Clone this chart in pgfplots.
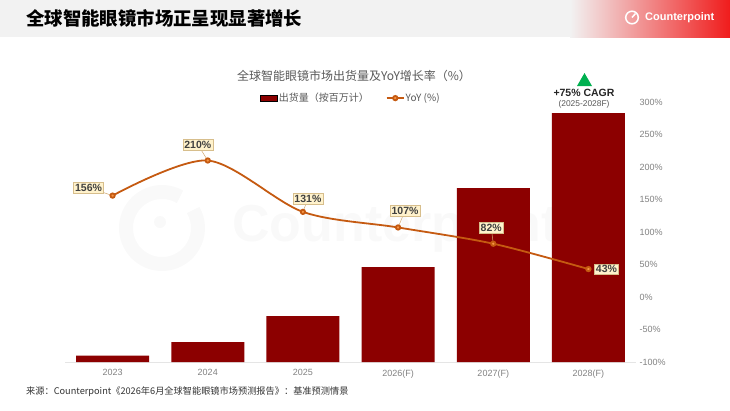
\documentclass[border=0pt]{standalone}
\usepackage{fontspec}
\setmainfont{Liberation Sans}
\newfontfamily\cjk{Noto Sans CJK SC}
\usepackage{pgfplots}
\pgfplotsset{compat=1.18}
\definecolor{barred}{RGB}{140,0,0}
\definecolor{lineor}{RGB}{197,90,17}
\definecolor{markor}{RGB}{247,150,70}
\definecolor{lblfill}{RGB}{255,242,204}
\definecolor{lbldraw}{RGB}{215,190,140}
\definecolor{hdrgray}{RGB}{242,242,242}
\definecolor{hdrred}{RGB}{240,28,28}
\definecolor{cagrgreen}{RGB}{0,176,80}
\definecolor{titlegray}{RGB}{89,89,89}
\definecolor{tickgray}{RGB}{130,130,130}
\begin{document}
\begin{tikzpicture}[x=1pt,y=1pt,
  lbl/.style={fill=lblfill, draw=lbldraw, line width=0.4pt, inner sep=1.6pt,
    font=\bfseries\fontsize{10.5}{11}\selectfont, text=black!75},
  leader/.style={draw=lbldraw!80!lineor, line width=0.5pt}]
\fill[white] (0,0) rectangle (730,-410);
% header
\fill[hdrgray] (0,0) rectangle (730,-37);
\shade[left color=hdrgray, right color=hdrred] (570,0) rectangle (730,-37);
\node[anchor=west, inner sep=0pt, font=\cjk\bfseries\fontsize{18.4}{20}\selectfont] at (26,-18.5) {全球智能眼镜市场正呈现显著增长};
\draw[white, line width=1.5pt] (632,-17.5) circle (6.3);
\draw[white, line width=1.5pt] (632,-17.5) -- (635.5,-13.5);
\node[anchor=west, inner sep=0pt, text=white, font=\bfseries\fontsize{11}{12}\selectfont] at (645,-17.5) {Counterpoint};
% watermark
\begin{scope}[opacity=0.022]
\draw[black, line width=14pt] (162,-228) ++(60:36) arc[start angle=60, end angle=390, radius=36];
\fill[black] (160,-222) circle (6);
\node[anchor=west, inner sep=0pt, text=black, font=\bfseries\fontsize{52}{56}\selectfont] at (232,-228) {Counterpoint};
\end{scope}
% chart title
\node[font=\cjk\fontsize{12}{14}\selectfont, text=titlegray] at (354,-76) {全球智能眼镜市场出货量及YoY增长率（\%）};
% bars
\begin{axis}[at={(65pt,-362pt)}, anchor=south west, scale only axis,
  width=571pt, height=260pt,
  xmin=-0.5, xmax=5.5, ymin=0, ymax=260,
  ybar, bar width=73pt,
  axis y line=none, axis x line=bottom,
  x axis line style={-, draw=black!10, line width=0.8pt},
  xtick={0,1,2,3,4,5},
  xticklabels={2023,2024,2025,2026(F),2027(F),2028(F)},
  major tick length=0pt,
  xticklabel style={font=\fontsize{9}{10}\selectfont, text=tickgray, yshift=-4pt}]
\addplot[fill=barred, draw=none] coordinates {(0,6.3) (1,20) (2,46) (3,95) (4,174) (5,249)};
\end{axis}
% YoY line
\begin{axis}[at={(65pt,-362pt)}, anchor=south west, scale only axis,
  width=571pt, height=260pt,
  xmin=-0.5, xmax=5.5, ymin=-100, ymax=300,
  axis x line*=bottom, x axis line style={draw=none}, xtick=\empty,
  axis y line*=right,
  y axis line style={draw=none},
  ytick={-100,-50,0,50,100,150,200,250,300},
  yticklabels={-100\%,-50\%,0\%,50\%,100\%,150\%,200\%,250\%,300\%},
  major tick length=0pt,
  yticklabel style={font=\fontsize{9}{10}\selectfont, text=tickgray},
  clip=false,
  legend columns=2,
  legend style={at={(0.5,1.015)}, anchor=center, draw=none, fill=none,
    font=\cjk\fontsize{10}{12}\selectfont, text=titlegray,
    nodes={inner sep=1pt},
    /tikz/every even column/.append style={column sep=16pt}},
  legend cell align=left]
\addlegendimage{area legend, fill=barred, draw=none}
\addlegendentry{出货量（按百万计）}
\addplot[smooth, color=lineor, line width=1.8pt, mark=*, mark size=2.2pt,
  mark options={fill=markor, draw=none}] coordinates {(0,156) (1,210) (2,131) (3,107) (4,82) (5,43)};
\addlegendentry{YoY (\%)}
% leaders
\draw[leader] (axis cs:0,156) -- ([xshift=-24pt,yshift=8pt]axis cs:0,156);
\draw[leader] (axis cs:1,210) -- ([xshift=-10pt,yshift=16pt]axis cs:1,210);
\draw[leader] (axis cs:2,131) -- ([xshift=5pt,yshift=13pt]axis cs:2,131);
\draw[leader] (axis cs:3,107) -- ([xshift=7pt,yshift=17pt]axis cs:3,107);
\draw[leader] (axis cs:4,82) -- ([xshift=-2pt,yshift=16pt]axis cs:4,82);
% labels
\node[lbl] at ([xshift=-24pt,yshift=8pt]axis cs:0,156) {156\%};
\node[lbl] at ([xshift=-10pt,yshift=16pt]axis cs:1,210) {210\%};
\node[lbl] at ([xshift=5pt,yshift=13pt]axis cs:2,131) {131\%};
\node[lbl] at ([xshift=7pt,yshift=17pt]axis cs:3,107) {107\%};
\node[lbl] at ([xshift=-2pt,yshift=16pt]axis cs:4,82) {82\%};
\node[lbl] at ([xshift=18pt]axis cs:5,43) {43\%};
\end{axis}
% CAGR annotation
\fill[cagrgreen] (577,-86) -- (592,-86) -- (584.5,-73) -- cycle;
\node[font=\bfseries\fontsize{10.5}{12}\selectfont, text=black!85] at (584,-93) {+75\% CAGR};
\node[font=\fontsize{8.4}{10}\selectfont, text=titlegray] at (584,-104.5) {(2025-2028F)};
% source
\node[anchor=west, inner sep=0pt, font=\cjk\fontsize{9.2}{11}\selectfont, text=black!80] at (26,-392) {来源：Counterpoint《2026年6月全球智能眼镜市场预测报告》：基准预测情景};
\pgfresetboundingbox
\path[use as bounding box] (0,0) rectangle (730,-410);
\end{tikzpicture}
\end{document}
